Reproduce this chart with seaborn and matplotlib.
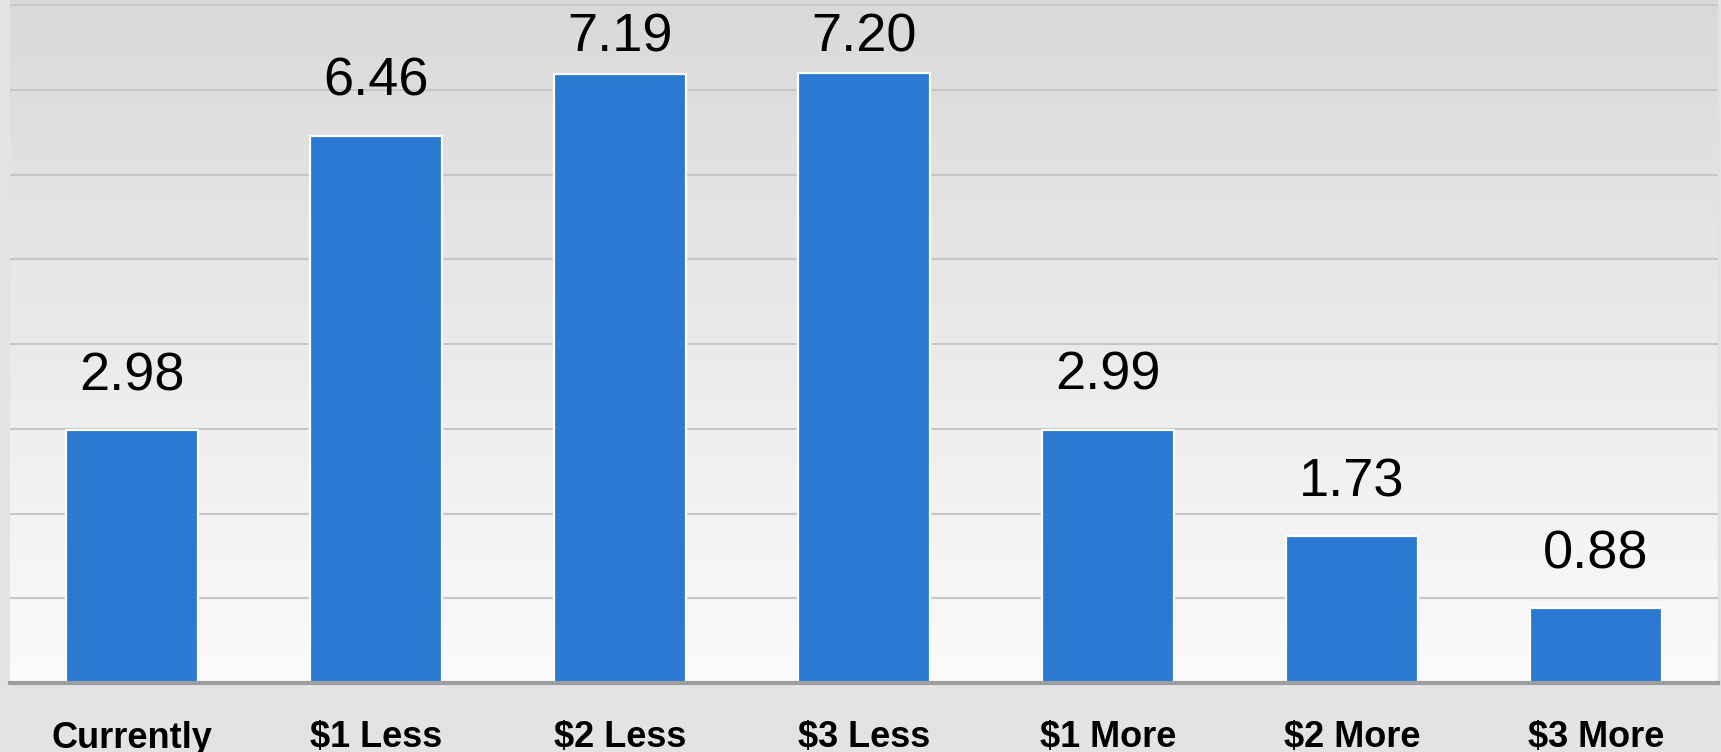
import numpy as np
import pandas as pd
import matplotlib
matplotlib.use("Agg")
import matplotlib.pyplot as plt
import seaborn as sns

categories = ["Currently", "$1 Less", "$2 Less", "$3 Less", "$1 More", "$2 More", "$3 More"]
values = [2.98, 6.46, 7.19, 7.20, 2.99, 1.73, 0.88]
grid_levels = [1, 2, 3, 4, 5, 6, 7, 8]

sns.set_theme(style="white")
plt.rcParams["font.family"] = ["Liberation Sans", "DejaVu Sans"]

W, H = 1721, 752
fig = plt.figure(figsize=(W / 100, H / 100), dpi=100, facecolor="#e3e3e3")
ax = fig.add_axes([10 / W, (H - 683) / H, (1718 - 10) / W, 683 / H])

YMAX = 8.06
df = pd.DataFrame({"option": categories, "value": values})
sns.barplot(data=df, x="option", y="value", color="#2a7ad2", saturation=1,
            width=0.545, edgecolor="white", linewidth=1.6, ax=ax, zorder=3)

ax.set_xlim(-0.5, 6.5)
ax.set_ylim(0, YMAX)

# vertical gradient behind the plot
grad = np.linspace(0, 1, 256).reshape(-1, 1)
cmap = matplotlib.colors.LinearSegmentedColormap.from_list("bg", ["#fbfbfb", "#d9d9d9"])
ax.imshow(grad, extent=[-0.5, 6.5, 0, YMAX], origin="lower", aspect="auto",
          cmap=cmap, zorder=0)

for g in grid_levels:
    ax.axhline(g, color="#c6c6c6", linewidth=1.5, zorder=1)

# value labels sit above each bar, kept inside the plot at the top
px_per_unit = ax.get_position().height * H / YMAX
gap = 40 / px_per_unit
label_cap = YMAX - 52 / px_per_unit
for i, v in enumerate(values):
    y = min(v + gap, label_cap)
    ax.text(i, y, f"{v:.2f}", ha="center", va="baseline",
            fontsize=39, color="black", zorder=4)

for s in ["top", "left"]:
    ax.spines[s].set_visible(False)
ax.spines["right"].set_color("#e0e0e0")
ax.spines["right"].set_linewidth(1)
ax.spines["bottom"].set_color("#9e9e9e")
ax.spines["bottom"].set_linewidth(3)
ax.spines["bottom"].set_zorder(5)

ax.set_yticks([])
ax.set_xlabel("")
ax.set_ylabel("")
ax.tick_params(axis="x", length=0, pad=27)
for lbl in ax.get_xticklabels():
    lbl.set_fontsize(26)
    lbl.set_fontweight("bold")
    lbl.set_color("black")

fig.savefig("out.png", dpi=100, facecolor=fig.get_facecolor())
